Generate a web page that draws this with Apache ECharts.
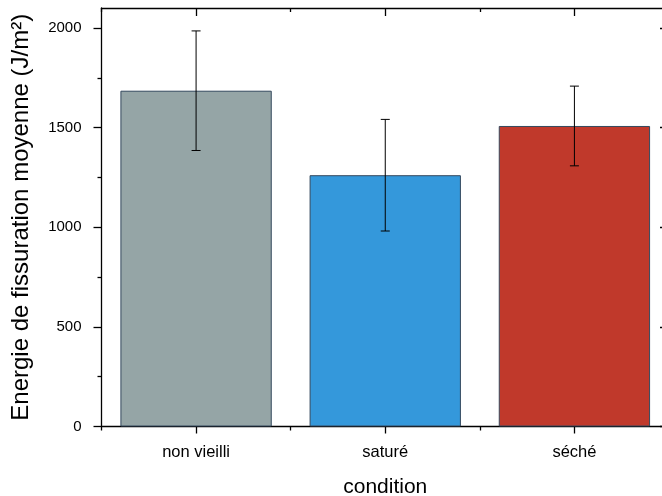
<!DOCTYPE html>
<html>
<head>
<meta charset="utf-8">
<script src="https://cdn.jsdelivr.net/npm/echarts@6/dist/echarts.min.js"></script>
<style>html,body{margin:0;padding:0;background:#fff}#c{width:662px;height:496px}</style>
</head>
<body>
<div id="c"></div>
<script>
const categories = ['non vieilli', 'saturé', 'séché'];
const means = [1685, 1261, 1508];
const errors = [300, 280, 200];
const barColors = ['#95a5a6', '#3498db', '#c0392b'];
const yMajorTicks = [0, 500, 1000, 1500, 2000];
const yMinorTicks = [250, 750, 1250, 1750];

const chart = echarts.init(document.getElementById('c'), null, {renderer: 'canvas'});
const FONT = 'Liberation Sans, Arial, sans-serif';
const lineStyle = {color: '#000', width: 1.3};

function catAxis(pos, center, len, inside, showLabel, showLine, name) {
  return {
    type: 'category', data: categories, position: pos, gridIndex: 0,
    axisLine: {show: showLine, onZero: false, lineStyle: lineStyle},
    axisTick: {show: true, alignWithLabel: center, length: len, inside: inside, lineStyle: {color: '#000', width: 1.3}},
    axisLabel: {show: showLabel, color: '#000', fontFamily: FONT, fontSize: 16.5, margin: 17},
    splitLine: {show: false},
    name: name || '', nameLocation: 'middle', nameGap: 50,
    nameTextStyle: {color: '#000', fontFamily: FONT, fontSize: 21}
  };
}
function valAxis(pos, ticks, len, inside, showLabel, showLine, name) {
  return {
    type: 'value', position: pos, min: 0, max: 2100, gridIndex: 0,
    axisLine: {show: showLine, onZero: false, lineStyle: lineStyle},
    axisTick: {show: true, customValues: ticks, length: len, inside: inside, lineStyle: {color: '#000', width: 1.3}},
    axisLabel: {show: showLabel, customValues: ticks, color: '#000', fontFamily: FONT, fontSize: 15, margin: 20,
      formatter: function (v) { return String(v); }},
    splitLine: {show: false},
    name: name || '', nameLocation: 'middle', nameGap: 68,
    nameTextStyle: {color: '#000', fontFamily: FONT, fontSize: 24}
  };
}

const option = {
  animation: false,
  backgroundColor: '#fff',
  grid: {left: 101.5, top: 8, width: 567.5, height: 418.5, containLabel: false, outerBoundsMode: 'none'},
  xAxis: [
    catAxis('bottom', true, 7, false, true, true, 'condition'),
    catAxis('bottom', false, 4, false, false, false),
    catAxis('top', true, 8, true, false, true),
    catAxis('top', false, 4, true, false, false)
  ],
  yAxis: [
    valAxis('left', yMajorTicks, 8, false, true, true, 'Energie de fissuration moyenne (J/m²)'),
    valAxis('left', yMinorTicks, 4, false, false, false),
    valAxis('right', yMajorTicks, 9, true, false, true)
  ],
  series: [
    {
      type: 'bar', xAxisIndex: 0, yAxisIndex: 0,
      barCategoryGap: '20%',
      data: means.map((v, i) => ({value: v, itemStyle: {color: barColors[i]}})),
      itemStyle: {borderColor: '#34495e', borderWidth: 1}
    },
    {
      type: 'custom', xAxisIndex: 0, yAxisIndex: 0, z: 10,
      data: means.map((v, i) => [i, v, errors[i]]),
      renderItem: function (params, api) {
        const i = api.value(0), m = api.value(1), e = api.value(2);
        const top = api.coord([i, m + e]);
        const bot = api.coord([i, m - e]);
        const hw = 4.5;
        const st = {stroke: '#000', lineWidth: 1};
        return {type: 'group', children: [
          {type: 'line', shape: {x1: top[0], y1: top[1], x2: bot[0], y2: bot[1]}, style: st},
          {type: 'line', shape: {x1: top[0] - hw, y1: top[1], x2: top[0] + hw, y2: top[1]}, style: st},
          {type: 'line', shape: {x1: bot[0] - hw, y1: bot[1], x2: bot[0] + hw, y2: bot[1]}, style: st}
        ]};
      }
    }
  ]
};
chart.setOption(option);
</script>
</body>
</html>
